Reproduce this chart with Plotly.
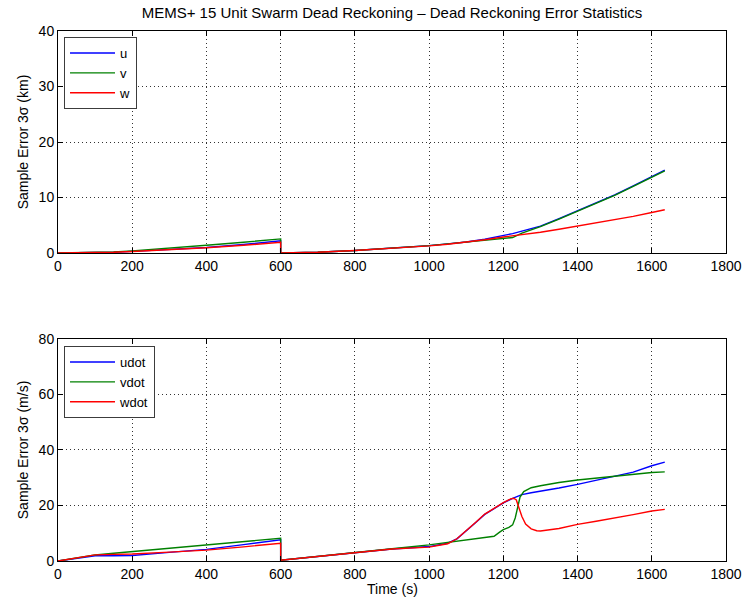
import plotly.graph_objects as go
from plotly.subplots import make_subplots

# ---- Position error 3-sigma (km) ----
t_pos = [0, 50, 100, 150, 200, 300, 400, 500, 600, 600, 700, 800, 900, 1000,
         1050, 1100, 1150, 1200, 1225, 1250, 1300, 1350, 1400, 1450, 1500,
         1550, 1600, 1635]
u_km = [0, 0.02, 0.07, 0.16, 0.3, 0.6, 1.0, 1.55, 2.2, 0.02, 0.15, 0.45, 0.85,
        1.35, 1.65, 2.0, 2.5, 3.1, 3.5, 3.95, 4.85, 6.2, 7.6, 9.0, 10.5,
        12.1, 13.8, 14.95]
v_km = [0, 0.03, 0.1, 0.22, 0.4, 0.85, 1.4, 1.95, 2.55, 0.02, 0.15, 0.45, 0.85,
        1.35, 1.65, 2.0, 2.35, 2.6, 2.8, 3.6, 4.75, 6.1, 7.5, 8.95, 10.4,
        12.0, 13.7, 14.8]
w_km = [0, 0.02, 0.07, 0.15, 0.28, 0.58, 0.95, 1.4, 1.95, 0.02, 0.15, 0.45,
        0.85, 1.3, 1.6, 1.95, 2.4, 2.9, 3.1, 3.3, 3.75, 4.3, 4.85, 5.4, 6.0,
        6.6, 7.3, 7.8]

# ---- Velocity error 3-sigma (m/s) ----
t_udot = [0, 25, 50, 75, 100, 150, 200, 300, 400, 500, 600, 600, 700, 800,
          900, 1000, 1050, 1075, 1100, 1125, 1150, 1175, 1200, 1225, 1250,
          1275, 1300, 1350, 1400, 1450, 1500, 1550, 1600, 1635]
udot = [0, 0.5, 1.0, 1.5, 1.9, 1.9, 2.0, 3.1, 4.2, 5.9, 7.6, 0.3, 1.6, 3.0,
        4.3, 5.2, 6.4, 8.0, 10.8, 13.8, 16.8, 19.0, 20.9, 22.6, 23.9, 24.6,
        25.1, 26.3, 27.6, 29.0, 30.5, 32.0, 34.3, 35.6]

t_vdot = [0, 25, 50, 75, 100, 150, 200, 300, 400, 500, 600, 600, 700, 800,
          900, 1000, 1050, 1100, 1125, 1150, 1175, 1190, 1200, 1215, 1225,
          1232, 1238, 1245, 1255, 1275, 1300, 1350, 1400, 1450, 1500, 1550,
          1600, 1635]
vdot = [0, 0.5, 1.0, 1.6, 2.2, 2.8, 3.4, 4.6, 5.8, 7.0, 8.2, 0.3, 1.6, 3.0,
        4.4, 5.8, 6.7, 7.4, 7.8, 8.3, 8.9, 10.4, 11.3, 12.1, 13.0, 15.5,
        19.5, 23.0, 25.0, 26.4, 27.1, 28.3, 29.2, 29.9, 30.6, 31.3, 31.9,
        32.1]

t_wdot = [0, 25, 50, 75, 100, 150, 200, 300, 400, 500, 600, 600, 700, 800,
          900, 1000, 1050, 1075, 1100, 1125, 1150, 1175, 1200, 1220, 1228,
          1235, 1242, 1250, 1260, 1275, 1290, 1300, 1350, 1400, 1450, 1500,
          1550, 1600, 1635]
wdot = [0, 0.5, 1.0, 1.6, 2.2, 2.4, 2.5, 3.2, 3.9, 5.1, 6.4, 0.3, 1.6, 3.0,
        4.3, 5.0, 6.2, 8.0, 10.8, 13.9, 16.9, 19.0, 21.0, 22.4, 22.6, 22.0,
        19.5, 16.0, 13.3, 11.6, 10.9, 10.8, 11.7, 13.2, 14.3, 15.4, 16.7,
        18.0, 18.6]

x_ticks = list(range(0, 1801, 200))
y_ticks_pos = [0, 10, 20, 30, 40]
y_ticks_vel = [0, 20, 40, 60, 80]

BLUE = "rgb(0,0,255)"
GREEN = "rgb(0,128,0)"
RED = "rgb(255,0,0)"
FONT = "Liberation Sans, Arial, Helvetica, sans-serif"

fig = make_subplots(rows=2, cols=1, vertical_spacing=0.162)

for name, y, c in [("u", u_km, BLUE), ("v", v_km, GREEN), ("w", w_km, RED)]:
    fig.add_trace(go.Scatter(x=t_pos, y=y, mode="lines", name=name,
                             line=dict(color=c, width=1.4), legend="legend"),
                  row=1, col=1)

for name, t, y, c in [("udot", t_udot, udot, BLUE), ("vdot", t_vdot, vdot, GREEN),
                      ("wdot", t_wdot, wdot, RED)]:
    fig.add_trace(go.Scatter(x=t, y=y, mode="lines", name=name,
                             line=dict(color=c, width=1.4), legend="legend2"),
                  row=2, col=1)

axis_common = dict(
    showline=True, linecolor="black", linewidth=1, mirror="allticks",
    ticks="inside", ticklen=5, tickcolor="black", tickwidth=1,
    showgrid=True, gridcolor="rgba(0,0,0,0.8)", gridwidth=1,
    griddash="1px,3px", zeroline=False,
    tickfont=dict(family=FONT, size=14, color="black"),
)

for r in (1, 2):
    fig.update_xaxes(range=[0, 1800], tickvals=x_ticks, row=r, col=1,
                     **axis_common)

fig.update_yaxes(range=[0, 40], tickvals=y_ticks_pos, row=1, col=1,
                 title=dict(text="Sample Error 3σ (km)", standoff=6,
                            font=dict(family=FONT, size=14, color="black")),
                 **axis_common)
fig.update_yaxes(range=[0, 80], tickvals=y_ticks_vel, row=2, col=1,
                 title=dict(text="Sample Error 3σ (m/s)", standoff=6,
                            font=dict(family=FONT, size=14, color="black")),
                 **axis_common)

# x-axis caption placed just under the bottom tick labels
fig.add_annotation(text="Time (s)", xref="paper", yref="paper",
                   x=0.5, y=-28 / 530, xanchor="center", yanchor="middle",
                   showarrow=False, font=dict(family=FONT, size=14, color="black"))

legend_style = dict(
    bgcolor="white", bordercolor="rgb(60,60,60)", borderwidth=1,
    font=dict(family=FONT, size=13, color="black"),
    itemwidth=45, xanchor="left", yanchor="top", tracegroupgap=0,
)

fig.update_layout(
    width=754, height=606,
    margin=dict(l=58, r=22, t=31, b=45),
    paper_bgcolor="white", plot_bgcolor="white",
    font=dict(family=FONT, size=14, color="black"),
    title=dict(text="MEMS+ 15 Unit Swarm Dead Reckoning – Dead Reckoning Error Statistics",
               x=0.5, xref="paper", xanchor="center",
               y=1 - 13 / 606, yref="container", yanchor="middle",
               font=dict(family=FONT, size=15, color="black")),
    legend=dict(x=0.009, y=0.9887, **legend_style),
    legend2=dict(x=0.009, y=0.4057, **legend_style),
    showlegend=True,
)

fig.write_html("out.html")
